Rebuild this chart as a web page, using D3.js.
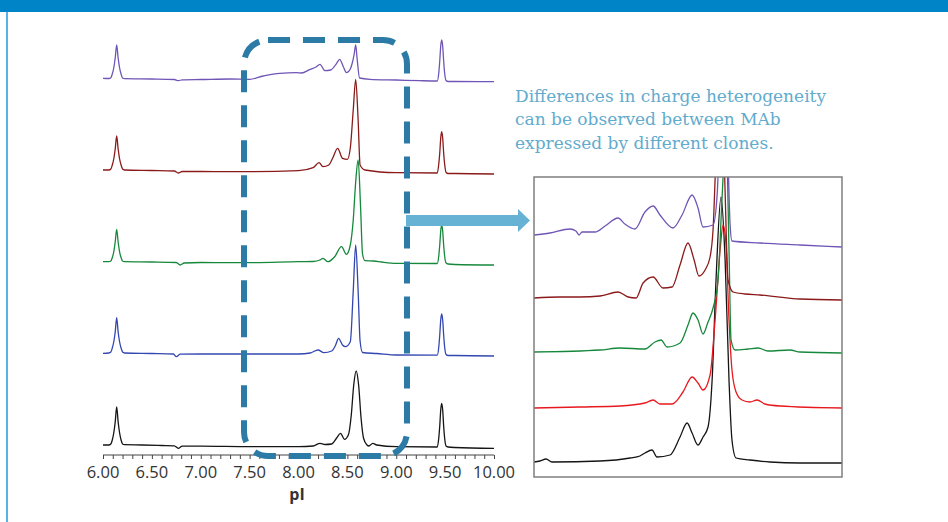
<!DOCTYPE html>
<html>
<head>
<meta charset="utf-8">
<script src="https://cdn.jsdelivr.net/npm/d3@7"></script>
<style>
    body { margin: 0; background: #fff; }
    svg { display: block; }
</style>
</head>
<body>
<svg id="canvas" width="948" height="522"></svg>
<script>
// x axis tick labels (pI)
let pITicks = [6.0, 6.5, 7.0, 7.5, 8.0, 8.5, 9.0, 9.5, 10.0];

let noteLines = [
    "Differences in charge heterogeneity",
    "can be observed between MAb",
    "expressed by different clones."
];

// Main electropherograms, [pI, signal].
// Stack offsets (signal units) put the clones one above the other.
let mainOffsets = [10, 102, 193, 285, 376];

let blackTrace = [[6.00,0],[6.06,0],[6.08,1],[6.095,5],[6.11,12],[6.125,23],[6.14,38],[6.155,23],[6.17,12],[6.185,5],[6.20,1],[6.22,0.3],[6.40,0],[6.60,-0.5],[6.73,-0.8],[6.77,-3.3],[6.81,-1.2],[7.00,-1.2],[7.50,-1.7],[8.00,-1.7],[8.15,-1],[8.22,1.7],[8.27,0.5],[8.34,1],[8.39,7],[8.43,11.7],[8.47,5.7],[8.51,10],[8.54,30],[8.565,60],[8.59,74],[8.615,60],[8.64,27],[8.665,7],[8.70,0],[8.72,-1],[8.76,1.7],[8.80,0],[9.00,-1.7],[9.42,-2],[9.435,7],[9.445,19],[9.455,35],[9.465,41.7],[9.475,35],[9.485,19],[9.495,7],[9.51,-1],[9.53,-2],[9.60,-2.5],[10.00,-3.3]];

let blueTrace = [[6.00,-0.3],[6.06,0],[6.08,1],[6.095,5],[6.11,11],[6.125,21],[6.14,35.3],[6.155,21],[6.17,11],[6.185,5],[6.20,1],[6.22,0],[6.50,-0.5],[6.72,-1],[6.75,-3.7],[6.79,-1.2],[7.00,-1],[7.50,-1],[8.00,-1],[8.12,0],[8.20,3],[8.26,0.3],[8.34,2],[8.38,8],[8.41,14.7],[8.45,8],[8.48,6.3],[8.53,11.3],[8.56,62],[8.585,108],[8.61,62],[8.63,12],[8.655,0.5],[8.80,-0.5],[9.00,-2],[9.42,-2.2],[9.435,6],[9.445,18],[9.455,33],[9.465,39],[9.475,33],[9.485,18],[9.495,6],[9.51,-1.5],[9.53,-2.5],[9.60,-2.5],[10.00,-3]];

let greenTrace = [[6.00,0.3],[6.06,0.3],[6.08,1],[6.095,4.5],[6.11,10],[6.125,20],[6.14,32.7],[6.155,20],[6.17,10],[6.185,4.5],[6.20,1],[6.22,0.3],[6.50,0],[6.75,-0.5],[6.79,-3],[6.83,-1],[7.00,-0.5],[7.50,-0.7],[8.00,0.3],[8.15,0.5],[8.22,2],[8.25,3.7],[8.30,0.3],[8.37,5.3],[8.44,15.3],[8.49,7.7],[8.53,17],[8.56,42],[8.585,80],[8.61,102],[8.635,55],[8.655,8],[8.68,1.3],[8.77,1],[8.85,0],[9.00,-1.3],[9.42,-1.5],[9.435,6],[9.445,17],[9.455,31],[9.465,37],[9.475,31],[9.485,17],[9.495,6],[9.51,-1],[9.53,-2],[9.60,-2.5],[10.00,-3]];

let darkRedTrace = [[6.00,0],[6.06,0],[6.08,1],[6.095,5],[6.11,11],[6.125,21],[6.14,34],[6.155,21],[6.17,11],[6.185,5],[6.20,1],[6.22,0],[6.50,-0.5],[6.73,-1],[6.77,-3],[6.81,-1.5],[7.00,-1.5],[7.50,-1.7],[8.00,-0.7],[8.15,2.3],[8.21,7.3],[8.25,3.3],[8.31,5],[8.35,12],[8.40,21.7],[8.45,11.7],[8.50,10.7],[8.53,22],[8.56,60],[8.585,90.7],[8.61,50],[8.63,5],[8.68,0],[9.00,-2.7],[9.42,-3],[9.435,6],[9.445,17],[9.455,32],[9.465,38.3],[9.475,32],[9.485,17],[9.495,6],[9.51,-2.5],[9.53,-3.5],[9.60,-3.5],[10.00,-4]];

let purpleTrace = [[6.00,0.7],[6.06,0.5],[6.08,1.3],[6.095,5],[6.11,11],[6.125,21],[6.14,34],[6.155,21],[6.17,11],[6.185,5],[6.20,1],[6.22,0.3],[6.50,0],[6.73,-0.5],[6.77,-1.7],[6.81,-0.8],[7.00,-0.5],[7.30,0],[7.50,-0.3],[7.64,3],[7.81,5.7],[7.98,6.3],[8.03,6],[8.12,9.7],[8.18,12],[8.22,14.7],[8.27,8.3],[8.33,9],[8.39,15.7],[8.42,19.7],[8.46,12],[8.49,6.3],[8.53,10],[8.55,16],[8.57,25],[8.585,34],[8.60,20],[8.625,1],[8.73,-0.3],[9.00,-1],[9.24,-1.7],[9.42,-2],[9.435,6],[9.445,18],[9.455,33],[9.465,39],[9.475,33],[9.485,18],[9.495,6],[9.51,-1.5],[9.53,-2.5],[9.60,-2.5],[10.00,-2.7]];

// Inset: zoom on the main peak region, different clone set (red instead of blue)
let insetDomain = [7.58, 9.24];
let insetOffsets = [15, 69, 125, 179, 242];

let insetBlack = [[7.58,0],[7.612,1],[7.645,3],[7.677,0],[7.936,1],[8.098,4],[8.151,6],[8.178,9],[8.216,12],[8.243,5],[8.313,7],[8.367,25],[8.405,39],[8.432,29],[8.464,17],[8.491,25],[8.518,35],[8.540,82],[8.561,182],[8.588,265],[8.610,202],[8.631,82],[8.647,22],[8.669,4],[8.744,2],[8.852,0],[9.014,-1],[9.24,-1]];

let insetRed = [[7.58,0],[7.828,1],[8.044,2],[8.178,5],[8.222,8],[8.259,4],[8.324,4],[8.383,16],[8.432,31],[8.464,25],[8.491,18],[8.529,33],[8.556,88],[8.583,158],[8.599,183],[8.615,163],[8.631,88],[8.647,38],[8.669,16],[8.701,8],[8.744,6],[8.782,8],[8.825,4],[8.906,2],[9.24,0]];

let insetGreen = [[7.58,0],[7.936,2],[8.044,4],[8.178,3],[8.232,10],[8.265,12],[8.297,5],[8.367,9],[8.410,27],[8.437,39],[8.464,32],[8.491,18],[8.518,30],[8.545,44],[8.572,72],[8.593,152],[8.615,220],[8.631,102],[8.642,12],[8.664,2],[8.734,3],[8.788,4],[8.841,1],[8.960,2],[9.014,0],[9.24,-1]];

let insetDarkRed = [[7.58,0],[7.72,1],[7.828,1],[7.936,2],[8.033,6],[8.087,1],[8.130,0],[8.168,15],[8.222,21],[8.275,10],[8.324,11],[8.367,33],[8.410,55],[8.443,38],[8.469,22],[8.502,28],[8.529,41],[8.545,68],[8.561,140],[8.583,180],[8.604,140],[8.626,18],[8.653,6],[8.717,4],[8.798,3],[9.014,-1],[9.24,-2]];

let insetPurple = [[7.58,0],[7.666,2],[7.774,6],[7.806,4],[7.823,0],[7.839,3],[7.909,3],[7.963,9],[8.033,17],[8.07,11],[8.124,6],[8.178,23],[8.222,29],[8.259,20],[8.329,7],[8.378,20],[8.432,40],[8.464,27],[8.491,8],[8.545,10],[8.567,40],[8.583,110],[8.600,150],[8.62,110],[8.637,10],[8.647,-6],[8.798,-8],[9.014,-10],[9.24,-12]];

let canvas = d3.select('#canvas');

// --- frame: header bar and left rule ---
canvas.append("rect").attr("x", 0).attr("y", 0).attr("width", 948).attr("height", 12).attr("fill", "#0084c8");
canvas.append("rect").attr("x", 6).attr("y", 12).attr("width", 2).attr("height", 510).attr("fill", "#5ab2e2");

// --- main chart ---
let x = d3.scaleLinear().domain([6, 10]).range([103, 494]);
let y = d3.scaleLinear().domain([0, 420]).range([455, 35]);

let mainSeries = [
    { data: blackTrace, color: "#151515" },
    { data: blueTrace, color: "#3347b0" },
    { data: greenTrace, color: "#16883c" },
    { data: darkRedTrace, color: "#8b1a1a" },
    { data: purpleTrace, color: "#6f55b5" }
];

mainSeries.forEach((s, i) => {
    let line = d3.line()
        .x(d => x(d[0]))
        .y(d => y(d[1] + mainOffsets[i]))
        .curve(d3.curveMonotoneX);
    canvas.append("path")
        .attr("d", line(s.data))
        .attr("fill", "none")
        .attr("stroke", s.color)
        .attr("stroke-width", 1.3);
});

// axis: minor ticks every 0.1, labels every 0.5
let axisG = canvas.append("g").attr("transform", "translate(0,455)");
axisG.call(d3.axisBottom(x).tickValues(d3.range(6, 10.001, 0.1)).tickSize(4).tickFormat(""));
axisG.selectAll("line, path").attr("stroke", "#444").attr("stroke-width", 1);
axisG.select(".domain").attr("d", "M103,0H494");

canvas.append("g").selectAll("text")
    .data(pITicks)
    .enter()
    .append("text")
    .attr("x", d => x(d))
    .attr("y", 478)
    .attr("text-anchor", "middle")
    .attr("font-family", "'Open Sans', sans-serif")
    .attr("font-size", 16.5)
    .attr("fill", "#333")
    .text(d => d.toFixed(2));

canvas.append("text")
    .attr("x", 297).attr("y", 500)
    .attr("text-anchor", "middle")
    .attr("font-family", "'Open Sans', sans-serif")
    .attr("font-weight", "bold")
    .attr("font-size", 16)
    .attr("fill", "#333")
    .text("pI");

// dashed highlight around the main peak region
canvas.append("rect")
    .attr("x", 244).attr("y", 40)
    .attr("width", 163).attr("height", 416)
    .attr("rx", 24).attr("ry", 24)
    .attr("fill", "none")
    .attr("stroke", "#2c7ba6")
    .attr("stroke-width", 6)
    .attr("stroke-dasharray", "22,13");

// arrow to the inset
canvas.append("path")
    .attr("d", "M406,215H518V209L530,220.5L518,232V226H406Z")
    .attr("fill", "#66b2d4");

// note text
canvas.append("g").selectAll("text")
    .data(noteLines)
    .enter()
    .append("text")
    .attr("x", 515)
    .attr("y", (d, i) => 102 + i * 23.4)
    .attr("font-family", "'DejaVu Serif', serif")
    .attr("font-size", 17)
    .attr("fill", "#62abcd")
    .text(d => d);

// --- inset ---
let ix = d3.scaleLinear().domain(insetDomain).range([534, 842]);
let iy = d3.scaleLinear().domain([0, 300]).range([477, 177]);

canvas.append("clipPath").attr("id", "insetClip")
    .append("rect").attr("x", 534).attr("y", 177).attr("width", 308).attr("height", 300);

let insetSeries = [
    { data: insetBlack, color: "#151515" },
    { data: insetRed, color: "#e8191e" },
    { data: insetGreen, color: "#16883c" },
    { data: insetDarkRed, color: "#8b1a1a" },
    { data: insetPurple, color: "#6f55b5" }
];

let insetG = canvas.append("g").attr("clip-path", "url(#insetClip)");
insetSeries.forEach((s, i) => {
    let line = d3.line()
        .x(d => ix(d[0]))
        .y(d => iy(d[1] + insetOffsets[i]))
        .curve(d3.curveMonotoneX);
    insetG.append("path")
        .attr("d", line(s.data))
        .attr("fill", "none")
        .attr("stroke", s.color)
        .attr("stroke-width", 1.3);
});

canvas.append("rect")
    .attr("x", 534).attr("y", 177)
    .attr("width", 308).attr("height", 300)
    .attr("fill", "none")
    .attr("stroke", "#7f7f7f")
    .attr("stroke-width", 1.5);
</script>
</body>
</html>
